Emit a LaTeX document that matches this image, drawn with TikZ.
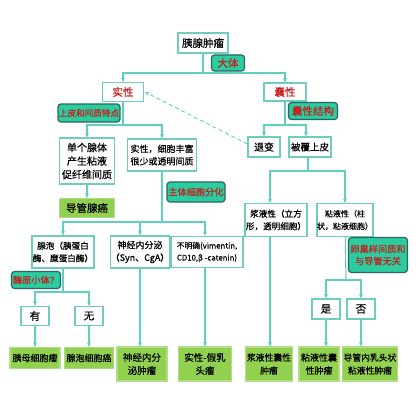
\documentclass[tikz,border=0pt]{standalone}
\usepackage{fontspec}
\setmainfont{Noto Sans CJK SC}[FakeBold=0.5]
\usetikzlibrary{arrows.meta}
\definecolor{lnc}{RGB}{95,207,192}
\definecolor{bdc}{RGB}{110,205,190}
\definecolor{lblfill}{RGB}{42,204,160}
\definecolor{lbldraw}{RGB}{45,100,95}
\definecolor{redt}{RGB}{200,30,30}
\definecolor{grnfill}{RGB}{146,208,80}
\definecolor{grndraw}{RGB}{175,222,135}
\tikzset{
  box/.style={draw=bdc, line width=1.1pt, fill=white, inner sep=0pt, align=center,
    font=\fontsize{9}{12.5}\selectfont},
  redbox/.style={box, text=redt, font=\fontsize{10.5}{12}\selectfont},
  lbl/.style={draw=lbldraw, line width=1.2pt, fill=lblfill, rounded corners=3pt, inner sep=0pt,
    align=center, text=redt, font=\fontsize{9.2}{12}\selectfont},
  leaf/.style={draw=grndraw, line width=1.1pt, fill=grnfill, inner sep=0pt, align=center,
    font=\fontsize{9}{13}\selectfont},
  conn/.style={draw=lnc, line width=1.1pt},
  arr/.style={conn, -{Stealth[length=4.5pt,width=4pt]}},
}
\begin{document}
\begin{tikzpicture}[x=1pt,y=-1pt]
\useasboundingbox[fill=white] (0,0) rectangle (420,420);
% nodes
\node[box, minimum width=50, minimum height=20, font=\fontsize{10.5}{12}\selectfont] (top) at (203,43) {胰腺肿瘤};
\node[redbox, minimum width=41, minimum height=19] (sx) at (123,92) {实性};
\node[redbox, minimum width=42, minimum height=18] (nx) at (285,92) {囊性};
\node[box, minimum width=55, minimum height=46, font=\fontsize{10}{13.5}\selectfont] (dg) at (87,161) {单个腺体\\产生粘液\\促纤维间质};
\node[box, minimum width=69, minimum height=32] (sxc) at (162,155) {实性，细胞丰富\\很少或透明间质};
\node[box, minimum width=32, minimum height=20, font=\fontsize{10}{12}\selectfont] (tb) at (264,147) {退变};
\node[box, minimum width=42, minimum height=20, font=\fontsize{9.5}{12}\selectfont] (bf) at (310,147) {被覆上皮};
\node[leaf, minimum width=55, minimum height=19, font=\fontsize{10.5}{12}\selectfont] (dgxa) at (87,208) {导管腺癌};
\node[box, minimum width=62, minimum height=32, font=\fontsize{8.6}{12.5}\selectfont] (xp) at (63,252) {腺泡（胰蛋白\\酶、糜蛋白酶）};
\node[box, minimum width=54, minimum height=32] (sj) at (140,252) {神经内分泌\\（Syn、CgA）};
\node[box, minimum width=72, minimum height=31, font=\fontsize{7.8}{12}\selectfont] (bm) at (207,252) {不明确(vimentin,\\CD10,β -catenin)};
\node[box, minimum width=62, minimum height=33, font=\fontsize{8.6}{12.5}\selectfont] (jy) at (276,220) {浆液性（立方\\形，透明细胞）};
\node[box, minimum width=56, minimum height=33, font=\fontsize{8}{12.5}\selectfont] (ny) at (345,220) {粘液性（柱\\状，粘液细胞）};
\node[box, minimum width=28, minimum height=19, font=\fontsize{10.5}{12}\selectfont] (you) at (35,316) {有};
\node[box, minimum width=28, minimum height=19, font=\fontsize{10.5}{12}\selectfont] (wu) at (89,316) {无};
\node[box, minimum width=28, minimum height=20, font=\fontsize{10.5}{12}\selectfont] (shi) at (326,309) {是};
\node[box, minimum width=28, minimum height=20, font=\fontsize{10.5}{12}\selectfont] (fou) at (361,309) {否};
\node[leaf, minimum width=50, minimum height=21] (l1) at (35,358) {胰母细胞瘤};
\node[leaf, minimum width=49, minimum height=21] (l2) at (89,358) {腺泡细胞癌};
\node[leaf, minimum width=50, minimum height=34, font=\fontsize{9.5}{13}\selectfont] (l3) at (142,364) {神经内分\\泌肿瘤};
\node[leaf, minimum width=53, minimum height=34, font=\fontsize{9.5}{13}\selectfont] (l4) at (205,364) {实性-假乳\\头瘤};
\node[leaf, minimum width=47, minimum height=34, font=\fontsize{8.8}{13}\selectfont] (l5) at (269,364) {浆液性囊性\\肿瘤};
\node[leaf, minimum width=40, minimum height=34] (l6) at (319,364) {粘液性囊\\性肿瘤};
\node[leaf, minimum width=55, minimum height=34, font=\fontsize{8.8}{13}\selectfont] (l7) at (370,364) {导管内乳头状\\粘液性肿瘤};
% junctions
\coordinate (j1) at (203,73);
\coordinate (j2) at (123,125);
\coordinate (j3) at (285,125);
\coordinate (j4) at (162,222);
\coordinate (j5) at (308,171);
\coordinate (j6) at (63,292);
\coordinate (j7) at (346,280);
% connectors
\draw[conn] (top) -- (j1);
\draw[arr] (j1) -| (sx);
\draw[arr] (j1) -| (nx);
\draw[conn] (sx) -- (j2);
\draw[arr] (j2) -| (dg);
\draw[arr] (j2) -| (sxc);
\draw[conn] (nx) -- (j3);
\draw[arr] (j3) -| (tb);
\draw[arr] (j3) -| ([xshift=-4pt]bf.north);
\draw[arr] (dg) -- (dgxa);
\draw[conn] (sxc) -- (j4);
\draw[arr] (j4) -| (xp);
\draw[arr] (j4) -| (sj);
\draw[arr] (j4) -| ([xshift=-2pt]bm.north);
\draw[conn] ([xshift=-2pt]bf.south) -- (j5);
\draw[arr] (j5) -| ([xshift=-6pt]jy.north);
\draw[arr] (j5) -| (ny);
\draw[conn] (xp) -- (j6);
\draw[arr] (j6) -| (you);
\draw[arr] (j6) -| (wu);
\draw[arr] (you) -- (l1);
\draw[arr] (wu) -- (l2);
\draw[arr] (sj) -- (sj |- l3.north);
\draw[arr] ([xshift=-2pt]bm.south) -- ([xshift=-2pt]bm.south |- l4.north);
\draw[arr] ([xshift=-6pt]jy.south) -- ([xshift=-6pt]jy.south |- l5.north);
\draw[conn] (ny) -- (j7);
\draw[arr] (j7) -| (shi);
\draw[arr] (j7) -| (fou);
\draw[arr] (shi) -- (shi |- l6.north);
\draw[arr] (fou) -- (fou |- l7.north);
\draw[arr, dash pattern=on 4pt off 3pt, line width=0.9pt] ([yshift=3pt]tb.west) -- ([xshift=1pt]sx.east);
% labels
\node[lbl, minimum width=33, minimum height=16, font=\fontsize{10.5}{12}\selectfont] (dt) at (228,63) {大体};
\node[lbl, minimum width=62, minimum height=18, font=\fontsize{8.6}{12}\selectfont] (spjz) at (89,113) {上皮和间质特点};
\node[lbl, minimum width=49, minimum height=17, font=\fontsize{10.5}{12}\selectfont] (nxjg) at (313,111) {囊性结构};
\node[lbl, minimum width=58, minimum height=20] (ztxb) at (196,192) {主体细胞分化};
\node[lbl, minimum width=59, minimum height=35] (lcy) at (378,255) {卵巢样间质和\\与导管无关};
\node[lbl, minimum width=49, minimum height=17] (my) at (36,280) {酶原小体？};
\end{tikzpicture}
\end{document}
